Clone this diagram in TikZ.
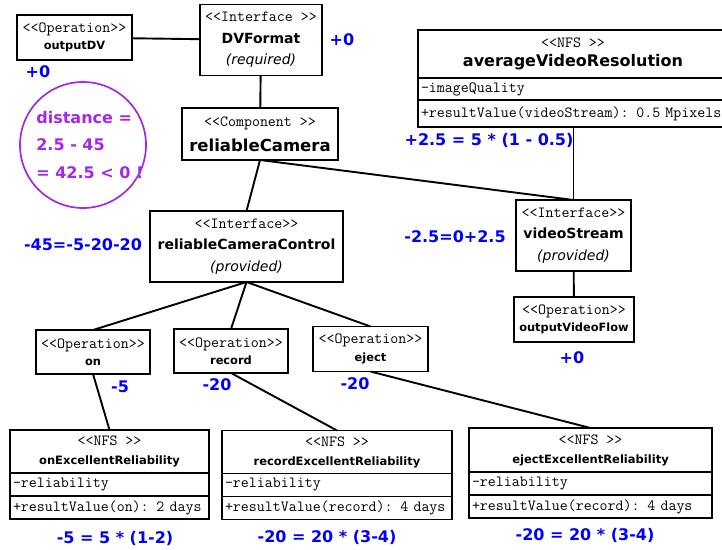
\documentclass[tikz,border=0pt]{standalone}
\usepackage{fontspec}
\setsansfont{DejaVu Sans}
\usepackage{tikz}
\usetikzlibrary{positioning}

\definecolor{distPurple}{RGB}{165,40,230}
\newcommand{\stereo}[1]{{\ttfamily\fontsize{15.5}{15.5}\selectfont #1}}

\begin{document}
\begin{tikzpicture}[
    x=1pt, y=-1pt,
    % boxes of the class diagram
    box_line/.style={draw, line width=1.9pt, outer sep=0pt, inner sep=0pt, fill=white, align=center},
    op_box/.style={box_line, minimum width=115pt, minimum height=45pt, font=\sffamily\fontsize{11.4}{17.5}\selectfont},
    iface_box/.style={box_line, minimum height=71pt, font=\sffamily\fontsize{14}{21.5}\selectfont},
    comp_box/.style={box_line, minimum width=156pt, minimum height=52pt, font=\sffamily\fontsize{16.5}{25}\selectfont},
    nfs_head/.style={box_line, minimum height=43pt, font=\sffamily\fontsize{11.5}{19}\selectfont},
    nfs_row/.style={box_line, align=left, minimum height=23pt, inner xsep=3pt, font=\ttfamily\fontsize{15.5}{15.5}\selectfont},
    link/.style={line width=1.9pt},
    % annotations
    cost/.style={text=blue, font=\sffamily\bfseries\fontsize{16}{16}\selectfont},
    warn_note/.style={circle, draw=distPurple, line width=1.7pt, minimum size=126pt, inner sep=0pt},
    warn_text/.style={text=distPurple, align=left, inner sep=0pt, font=\sffamily\bfseries\fontsize{16}{27.5}\selectfont}
]

\useasboundingbox (0,0) rectangle (722,549);
\clip (0,0) rectangle (722,549);

% --- 1. Component and its interfaces ---

\node[op_box] (outDV) at (74.5,37.5) {\stereo{<<Operation>>}\\ \textbf{outputDV}};
\node[iface_box, minimum width=122pt] (dvFormat) at (261,40)
    {\stereo{<<Interface >>}\\ \textbf{DVFormat}\\ \textit{(required)}};
\node[comp_box] (relCam) at (260,134) {\stereo{<<Component >>}\\ \textbf{reliableCamera}};

\node[iface_box, minimum width=193pt] (rcControl) at (246.5,246.5)
    {\stereo{<<Interface>>}\\ \textbf{reliableCameraControl}\\ \textit{(provided)}};
\node[iface_box, minimum width=115pt] (videoStream) at (573.5,235.5)
    {\stereo{<<Interface>>}\\ \textbf{videoStream}\\ \textit{(provided)}};
\node[op_box, minimum width=120pt] (outVideoFlow) at (574,319.5)
    {\stereo{<<Operation>>}\\ \textbf{outputVideoFlow}};

% Operations of the provided interface
\node[op_box, minimum width=114pt, minimum height=44pt] (on) at (93,352) {\stereo{<<Operation>>}\\ \textbf{on}};
\node[op_box, minimum width=114pt, minimum height=44pt] (record) at (231,351) {\stereo{<<Operation>>}\\ \textbf{record}};
\node[op_box] (eject) at (370.5,349) {\stereo{<<Operation>>}\\ \textbf{eject}};

% --- 2. NFS classes ---

\node[nfs_head, minimum width=310pt, minimum height=48pt, font=\sffamily\fontsize{16}{19}\selectfont] (avgRes) at (573,54)
    {\stereo{<<NFS >>}\\ \textbf{averageVideoResolution}\hspace{24pt}};
\node[nfs_row, text width=304pt, minimum height=22pt, below=0pt of avgRes] (avgRes_attr) {-imageQuality};
\node[nfs_row, text width=304pt, minimum height=27pt, below=0pt of avgRes_attr] (avgRes_op) {+resultValue(videoStream): 0.5 Mpixels};

\node[nfs_head, minimum width=199pt] (onNFS) at (109.5,451.5)
    {\stereo{<<NFS >>}\\ \textbf{onExcellentReliability}};
\node[nfs_row, text width=193pt, below=0pt of onNFS] (onNFS_attr) {-reliability};
\node[nfs_row, text width=193pt, below=0pt of onNFS_attr] (onNFS_op) {+resultValue(on): 2 days};

\node[nfs_head, minimum width=230pt] (recNFS) at (337,452)
    {\stereo{<<NFS >>}\\ \textbf{recordExcellentReliability}};
\node[nfs_row, text width=224pt, below=0pt of recNFS] (recNFS_attr) {-reliability};
\node[nfs_row, text width=224pt, below=0pt of recNFS_attr] (recNFS_op) {+resultValue(record): 4 days};

\node[nfs_head, minimum width=243pt, minimum height=44pt] (ejNFS) at (590.5,450)
    {\stereo{<<NFS >>}\\ \textbf{ejectExcellentReliability}};
\node[nfs_row, text width=237pt, below=0pt of ejNFS] (ejNFS_attr) {-reliability};
\node[nfs_row, text width=237pt, below=0pt of ejNFS_attr] (ejNFS_op) {+resultValue(record): 4 days};

% --- 3. Links ---

\draw[link] (outDV) -- (dvFormat);
\draw[link] (dvFormat) -- (relCam);
\draw[link] (relCam.south) -- (rcControl.north);
\draw[link] (relCam.south) -- (videoStream.north);
\draw[link] (avgRes_op.south -| videoStream.north) -- (videoStream.north);
\draw[link] (videoStream) -- (outVideoFlow);
\draw[link] (rcControl.south) -- (on.north);
\draw[link] (rcControl.south) -- (record.north);
\draw[link] (rcControl.south) -- (eject.north);
\draw[link] (on.south) -- (onNFS.north);
\draw[link] (record.south) -- (recNFS.north);
\draw[link] (eject.south) -- (ejNFS.north);

% --- 4. Costs and the distance ---

\node[cost] (cost_dv) at (342,40) {+0};
\node[cost] (cost_outdv) at (38,72) {+0};
\node[cost] (cost_avg) at (489,140) {+2.5 = 5 * (1 - 0.5)};
\node[cost] (cost_ctrl) at (83,245) {-45=-5-20-20};
\node[cost] (cost_vs) at (455,237) {-2.5=0+2.5};
\node[cost] (cost_ovf) at (572,358) {+0};
\node[cost] (cost_on) at (120,387) {-5};
\node[cost] (cost_rec) at (217,385) {-20};
\node[cost] (cost_ej) at (355,384) {-20};
\node[cost] (cost_onNFS) at (115,538) {-5 = 5 * (1-2)};
\node[cost] (cost_recNFS) at (327,537) {-20 = 20 * (3-4)};
\node[cost] (cost_ejNFS) at (585,535) {-20 = 20 * (3-4)};

\node[warn_note] (distNote) at (83,145) {};
\node[warn_text, right=17pt of distNote.west] (distText) {distance =\\ 2.5 - 45\\ = 42.5 < 0 !};

\end{tikzpicture}
\end{document}
